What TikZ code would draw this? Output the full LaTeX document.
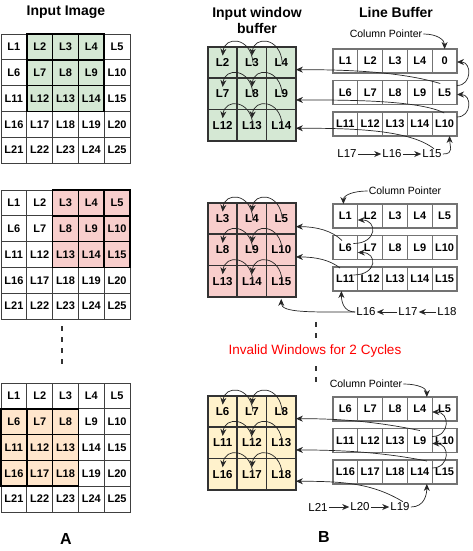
\documentclass[tikz,border=0pt]{standalone}
\usepackage{fontspec}
\setmainfont{Liberation Sans}
\usetikzlibrary{arrows.meta, positioning}

\definecolor{wingreen}{HTML}{D5E8D4}
\definecolor{winpink}{HTML}{F8CECC}
\definecolor{winpeach}{HTML}{FFE6CC}
\definecolor{winyellow}{HTML}{FFF2CC}

% 5x5 input image: name, top, first row/col of the window, fill
\newcommand{\imagegrid}[5]{%
  \foreach \gr in {1,...,5}{%
    \foreach \gc in {1,...,5}{%
      \pgfmathtruncatemacro{\lnum}{(\gr-1)*5+\gc}%
      \pgfmathtruncatemacro{\inwin}{(\gr>=#3)*(\gr<=#3+2)*(\gc>=#4)*(\gc<=#4+2)}%
      \ifnum\inwin=0
        \node[imgcell] (#1-\gr-\gc) at ({1+(\gc-1)*25.8},{#2+(\gr-1)*25.8}) {L\lnum};
      \fi
    }%
  }%
  \foreach \gr in {1,...,5}{%
    \foreach \gc in {1,...,5}{%
      \pgfmathtruncatemacro{\lnum}{(\gr-1)*5+\gc}%
      \pgfmathtruncatemacro{\inwin}{(\gr>=#3)*(\gr<=#3+2)*(\gc>=#4)*(\gc<=#4+2)}%
      \ifnum\inwin=1
        \node[imgcell, hlcell, fill=#5] (#1-\gr-\gc) at ({1+(\gc-1)*25.8},{#2+(\gr-1)*25.8}) {L\lnum};
      \fi
    }%
  }%
}

% 3x3 window buffer: name, top, fill, first pixel
\newcommand{\windowbuffer}[4]{%
  \foreach \gr in {1,2,3}{%
    \foreach \gc in {1,2,3}{%
      \pgfmathtruncatemacro{\lnum}{#4+(\gr-1)*5+\gc-1}%
      \node[wincell, fill=#3] (#1-\gr-\gc) at ({208+(\gc-1)*29.3},{#2+(\gr-1)*31.3}) {L\lnum};
    }%
  }%
  \foreach \gr in {1,2,3}{%
    \foreach \gc [evaluate=\gc as \gn using int(\gc+1)] in {1,2}{%
      \draw[arr] ([xshift=1pt]#1-\gr-\gn.center) .. controls +(-2,-26) and +(2,-20) .. ([yshift=7pt]#1-\gr-\gc.center);
    }%
  }%
}

% one row of the line buffer: name, top, pixels
\newcommand{\linebufrow}[3]{%
  \foreach \px [count=\gc] in {#3}{%
    \node[lbcell] (#1-\gc) at ({333+(\gc-1)*24.8},#2) {\px};
  }%
}

\begin{document}
\begin{tikzpicture}[
    x=1pt, y=-1pt,
    imgcell/.style={rectangle, draw=black!75, line width=0.8pt, fill=white, anchor=north west,
      minimum width=25.8pt, minimum height=25.8pt, inner sep=0pt, outer sep=0pt,
      font=\bfseries\fontsize{11}{13}\selectfont},
    hlcell/.style={draw=black, line width=1.6pt},
    wincell/.style={rectangle, draw=black!80, line width=1.7pt, anchor=north west,
      minimum width=29.3pt, minimum height=31.3pt, inner sep=0pt, outer sep=0pt,
      font=\bfseries\fontsize{11.5}{13}\selectfont},
    lbcell/.style={rectangle, draw=black!55, line width=1.2pt, fill=white, anchor=north west,
      minimum width=24.8pt, minimum height=24pt, inner sep=0pt, outer sep=0pt,
      font=\bfseries\fontsize{11}{13}\selectfont},
    heading/.style={font=\bfseries\fontsize{14}{16}\selectfont, align=center},
    pointertext/.style={font=\fontsize{10.5}{12}\selectfont, inner sep=1pt},
    chaintext/.style={font=\fontsize{11.5}{13}\selectfont, inner sep=1pt},
    arr/.style={-{Stealth[length=7pt, width=6pt]}, line width=0.7pt, draw=black!85},
    vdots/.style={line width=1.8pt, draw=black!80, dash pattern=on 4.5pt off 6.5pt},
    invalid/.style={text=red, font=\fontsize{13.5}{16}\selectfont},
    panellabel/.style={font=\bfseries\fontsize{16}{18}\selectfont},
  ]
  \useasboundingbox (0,0) rectangle (472,551);

  \node[heading] (imgtitle) at (66,12)  {Input Image};
  \node[heading] (wintitle) at (257,20) {Input window\\buffer};
  \node[heading] (lbtitle)  at (396,12) {Line Buffer};

  % column A
  \imagegrid{img1}{34}{1}{2}{wingreen}
  \imagegrid{img2}{190}{1}{3}{winpink}
  \imagegrid{img3}{383}{2}{1}{winpeach}
  \draw[vdots] (62,326) -- (62,368);

  % window buffers
  \windowbuffer{win1}{47}{wingreen}{2}
  \windowbuffer{win2}{203}{winpink}{3}
  \windowbuffer{win3}{396}{winyellow}{6}

  % line buffers
  \linebufrow{lb1-1}{49}{L1,L2,L3,L4,0}
  \linebufrow{lb1-2}{80.5}{L6,L7,L8,L9,L5}
  \linebufrow{lb1-3}{112}{L11,L12,L13,L14,L10}

  \linebufrow{lb2-1}{204}{L1,L2,L3,L4,L5}
  \linebufrow{lb2-2}{235.5}{L6,L7,L8,L9,L10}
  \linebufrow{lb2-3}{267}{L11,L12,L13,L14,L15}

  \linebufrow{lb3-1}{397}{L6,L7,L8,L4,L5}
  \linebufrow{lb3-2}{428.5}{L11,L12,L13,L9,L10}
  \linebufrow{lb3-3}{460}{L16,L17,L18,L14,L15}

  % first cycle
  \node[pointertext] (cp1) at (386,34) {Column Pointer};
  \draw[arr] (cp1.east) .. controls +(14,0) and +(0,-9) .. (lb1-1-5.north);
  \node[chaintext] (p1-17) at (347,154) {L17};
  \node[chaintext] (p1-16) at (392,154) {L16};
  \node[chaintext] (p1-15) at (432,154) {L15};
  \draw[arr] (p1-17) -- (p1-16);
  \draw[arr] (p1-16) -- (p1-15);
  \draw[arr] (p1-15.east) .. controls +(12,0) and +(0,10) .. ([xshift=5pt]lb1-3-5.south);
  \draw[arr] ([yshift=7pt]lb1-2-5.east) .. controls +(15,0) and +(15,0) .. ([yshift=-1pt]lb1-1-5.east);
  \draw[arr] ([yshift=7pt]lb1-3-5.east) .. controls +(15,0) and +(15,0) .. ([yshift=-2pt]lb1-2-5.east);
  \draw[arr] ([shift={(8,3)}]lb1-2-5.north west) .. controls +(-40,-12) and +(50,0) .. ([yshift=-7pt]win1-1-3.east);
  \draw[arr] ([shift={(12,1)}]lb1-3-5.north west) .. controls +(-25,-13) and +(50,0) .. ([yshift=-6pt]win1-2-3.east);
  \draw[arr] ([xshift=2pt]p1-15.north) .. controls +(-25,-20) and +(50,0) .. ([yshift=-3pt]win1-3-3.east);

  % second cycle
  \node[pointertext] (cp2) at (405,191) {Column Pointer};
  \draw[arr] (cp2.west) .. controls +(-14,0) and +(0,-9) .. ([xshift=-2pt]lb2-1-1.north);
  \node[chaintext] (p2-16) at (366,312) {L16};
  \node[chaintext] (p2-17) at (408,312) {L17};
  \node[chaintext] (p2-18) at (447,312) {L18};
  \draw[arr] (p2-18) -- (p2-17);
  \draw[arr] (p2-17) -- (p2-16);
  \draw[arr] (p2-16.west) .. controls +(-12,0) and +(0,10) .. ([xshift=-4pt]lb2-3-1.south);
  \draw[arr] ([shift={(8,-4)}]lb2-2-1.center) .. controls +(24,0) and +(20,0) .. ([yshift=-4pt]lb2-1-1.east);
  \draw[arr] ([shift={(8,-4)}]lb2-3-1.center) .. controls +(24,0) and +(20,0) .. ([yshift=-5pt]lb2-2-1.east);
  \draw[arr] ([shift={(9,5)}]lb2-2-1.north west) .. controls +(-10,-10) and +(20,0) .. ([yshift=-8pt]win2-1-3.east);
  \draw[arr] ([shift={(7,1)}]lb2-3-1.north west) .. controls +(-10,-8) and +(20,0) .. ([yshift=-7pt]win2-2-3.east);
  \draw[arr] (p2-16.west) .. controls +(-45,0) and +(0,14) .. ([yshift=-2pt]win2-3-3.south);

  \node[invalid] (invalidtext) at (315,351) {Invalid Windows for 2 Cycles};
  \draw[vdots] (316,322) -- (316,342);
  \draw[vdots] (316,366) -- (316,386);

  % third cycle
  \node[pointertext] (cp3) at (366,384) {Column Pointer};
  \draw[arr] (cp3.east) .. controls +(14,0) and +(0,-9) .. ([xshift=7pt]lb3-1-4.north);
  \node[chaintext] (p3-21) at (318,507) {L21};
  \node[chaintext] (p3-20) at (360,507) {L20};
  \node[chaintext] (p3-19) at (400,507) {L19};
  \draw[arr] (p3-21) -- (p3-20);
  \draw[arr] (p3-20) -- (p3-19);
  \draw[arr] (p3-19.east) .. controls +(14,0) and +(0,10) .. ([xshift=7pt]lb3-3-4.south);
  \draw[arr] ([yshift=4pt]lb3-2-4.east) .. controls +(18,0) and +(18,0) .. ([yshift=-3pt]lb3-1-4.east);
  \draw[arr] ([yshift=4pt]lb3-3-4.east) .. controls +(18,0) and +(18,0) .. ([yshift=-3pt]lb3-2-4.east);
  \draw[arr] ([yshift=-2pt]lb3-2-4.north) .. controls +(-40,-8) and +(50,0) .. ([yshift=-7pt]win3-1-3.east);
  \draw[arr] ([shift={(7,1)}]lb3-3-4.north) .. controls +(-40,-8) and +(50,0) .. ([yshift=-7pt]win3-2-3.east);
  \draw[arr] ([xshift=3pt]p3-19.north) .. controls +(-30,-18) and +(50,0) .. ([yshift=-7pt]win3-3-3.east);

  \node[panellabel] (labela) at (66,539) {A};
  \node[panellabel] (labelb) at (324,537) {B};
\end{tikzpicture}
\end{document}
